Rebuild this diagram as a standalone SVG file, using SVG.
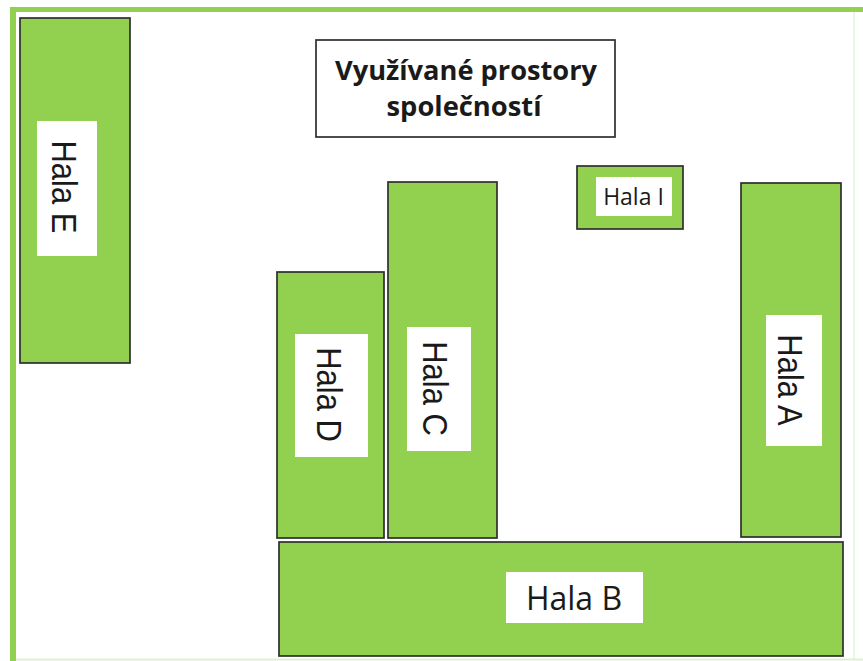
<svg xmlns="http://www.w3.org/2000/svg" width="863" height="661" viewBox="0 0 863 661">
  <style>
    .hall { fill: #92d050; stroke: #2e2e2e; stroke-width: 1.7; }
    .tag { fill: #ffffff; }
    .vlabel { font-family: "Liberation Sans", Arial, sans-serif; font-size: 31px; fill: #1a1a1a; text-anchor: middle; }
    .hlabel { font-family: "Open Sans", "Liberation Sans", sans-serif; fill: #1a1a1a; text-anchor: middle; }
    .title { font-family: "Open Sans", "Liberation Sans", sans-serif; font-weight: bold; font-size: 26px; fill: #1a1a1a; text-anchor: middle; }
  </style>

  <rect x="0" y="0" width="863" height="661" fill="#ffffff"/>

  <!-- site boundary -->
  <g id="boundary" fill="none" stroke="#92d050">
    <line x1="10" y1="9.5" x2="863" y2="9.5" stroke-width="5"/>
    <line x1="13" y1="7" x2="13" y2="661" stroke-width="6"/>
    <line x1="854" y1="12" x2="854" y2="659" stroke-width="1.5" stroke-opacity="0.25"/>
    <line x1="16" y1="659.5" x2="863" y2="659.5" stroke-width="2" stroke-opacity="0.3"/>
  </g>

  <!-- title -->
  <g id="title">
    <rect x="316" y="40" width="299" height="97" fill="#ffffff" stroke="#2e2e2e" stroke-width="1.7"/>
    <text class="title" x="466" y="80" textLength="262" lengthAdjust="spacingAndGlyphs">Využívané prostory</text>
    <text class="title" x="464" y="116" textLength="155" lengthAdjust="spacingAndGlyphs">společností</text>
  </g>

  <!-- halls -->
  <g id="hala-e">
    <rect class="hall" x="20" y="18" width="110" height="345"/>
    <rect class="tag" x="37" y="121" width="60" height="135"/>
    <text class="vlabel" transform="translate(52,187) rotate(90) scale(1,1.13)">Hala E</text>
  </g>

  <g id="hala-d">
    <rect class="hall" x="277" y="272" width="107" height="266"/>
    <rect class="tag" x="295" y="334" width="73" height="123"/>
    <text class="vlabel" transform="translate(317,394.5) rotate(90) scale(1,1.13)">Hala D</text>
  </g>

  <g id="hala-c">
    <rect class="hall" x="388" y="182" width="109" height="356"/>
    <rect class="tag" x="407" y="327" width="64" height="124"/>
    <text class="vlabel" transform="translate(423,388.5) rotate(90) scale(1,1.13)">Hala C</text>
  </g>

  <g id="hala-i">
    <rect class="hall" x="577" y="166" width="106" height="63"/>
    <rect class="tag" x="596" y="177" width="76" height="39"/>
    <text class="hlabel" x="633.5" y="205" font-size="23">Hala I</text>
  </g>

  <g id="hala-a">
    <rect class="hall" x="741" y="183" width="100" height="354"/>
    <rect class="tag" x="766" y="315" width="56" height="131"/>
    <text class="vlabel" transform="translate(778,380) rotate(90) scale(1,1.13)">Hala A</text>
  </g>

  <g id="hala-b">
    <rect class="hall" x="279" y="542" width="564" height="114"/>
    <rect class="tag" x="506" y="572" width="137" height="51"/>
    <text class="hlabel" x="574" y="610" font-size="32">Hala B</text>
  </g>

  <g id="connectors"/>
</svg>
